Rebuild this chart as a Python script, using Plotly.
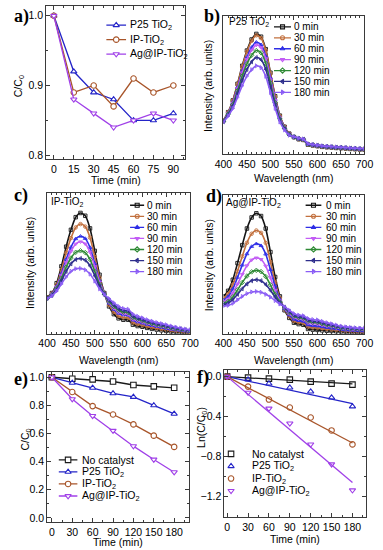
import plotly.graph_objects as go

W, H = 383, 550
SANS = 'Liberation Sans, Arial, sans-serif'
SERIF = 'Liberation Serif, Times New Roman, serif'
FRAME = '#3a3a3a'

# ---------------- data ----------------
# a) adsorption in the dark
time_a = [0, 15, 30, 45, 60, 75, 90]
a_p25 = [1.0, 0.92, 0.89, 0.88, 0.85, 0.85, 0.86]
a_ip = [1.0, 0.89, 0.90, 0.87, 0.91, 0.89, 0.90]
a_ag = [1.0, 0.88, 0.86, 0.84, 0.85, 0.86, 0.85]

# e) / f) photodegradation
time_ef = [0, 30, 60, 90, 120, 150, 180]
e_none = [1.0, 0.99, 0.985, 0.97, 0.945, 0.935, 0.925]
e_p25 = [1.0, 0.96, 0.925, 0.885, 0.86, 0.80, 0.74]
e_ip = [1.0, 0.895, 0.795, 0.735, 0.665, 0.585, 0.505]
e_ag = [1.0, 0.845, 0.725, 0.62, 0.51, 0.415, 0.325]

f_none = [0, -0.01, -0.02, -0.03, -0.05, -0.07, -0.08]
f_p25 = [0, -0.03, -0.07, -0.11, -0.15, -0.21, -0.30]
f_ip = [0, -0.10, -0.23, -0.31, -0.41, -0.54, -0.68]
f_ag = [0, -0.16, -0.32, -0.47, -0.68, -0.88, -1.14]
fit_k = [0.0004, 0.0015, 0.0037, 0.0059]  # slopes of the linear fits (1/min)

sample_names = ['No catalyst', 'P25 TiO<sub>2</sub>', 'IP-TiO<sub>2</sub>', 'Ag@IP-TiO<sub>2</sub>']

# b) c) d) spectra
wavelength = [400, 410, 420, 430, 440, 450, 460, 470, 480, 490, 500, 510, 520, 530, 540, 550,
              560, 570, 580, 590, 600, 610, 620, 630, 640, 650, 660, 670, 680, 690, 700]
spec_labels = ['0 min', '30 min', '60 min', '90 min', '120 min', '150 min', '180 min']

b_0 = [24.5, 30.5, 39, 51, 64, 75, 83, 87, 85, 76, 59, 42, 28, 20, 15, 12.5, 11, 10.5, 7, 6.5, 6, 5.5, 5.2, 5, 4.7, 4.5, 4.3, 4, 3.8, 3.6, 3.5]
b_30 = [24.5, 30.4, 38.8, 50.6, 63.4, 74.2, 82, 86, 84, 75.2, 58.4, 41.6, 27.8, 19.9, 15, 12.5, 11, 10.5, 7, 6.5, 6, 5.5, 5.2, 5, 4.7, 4.5, 4.3, 4, 3.8, 3.6, 3.5]
b_60 = [24.2, 29.8, 37.5, 48.5, 60.3, 70.2, 77.3, 81, 79.2, 70.9, 55.3, 39.7, 26.8, 19.4, 14.7, 12.5, 11.2, 10.7, 7.2, 6.7, 6.2, 5.7, 5.4, 5.2, 4.9, 4.7, 4.5, 4.2, 4, 3.8, 3.7]
b_90 = [24.1, 29.5, 37, 47.6, 59, 68.6, 75.4, 79, 77.2, 69.2, 54, 39, 26.4, 19.2, 14.6, 12.5, 11.3, 10.8, 7.3, 6.8, 6.3, 5.8, 5.5, 5.3, 5, 4.8, 4.6, 4.3, 4.1, 3.9, 3.8]
b_120 = [23.9, 29.1, 36, 46, 56.6, 65.4, 71.6, 75, 73.4, 65.8, 51.6, 37.4, 25.6, 18.8, 14.4, 12.6, 11.4, 10.9, 7.4, 6.9, 6.4, 5.9, 5.6, 5.4, 5.1, 4.9, 4.7, 4.4, 4.2, 4, 3.9]
b_150 = [23.6, 28.5, 34.8, 43.9, 53.5, 61.4, 66.9, 70, 68.5, 61.6, 48.5, 35.5, 24.6, 18.3, 14.2, 12.7, 11.5, 11, 7.5, 7, 6.5, 6, 5.7, 5.5, 5.2, 5, 4.8, 4.5, 4.3, 4.1, 4]
b_180 = [23.3, 27.7, 33.2, 41.3, 49.7, 56.6, 61.2, 64, 62.7, 56.4, 44.7, 33.3, 23.4, 17.7, 13.9, 12.8, 11.7, 11.2, 7.7, 7.2, 6.7, 6.2, 5.9, 5.7, 5.4, 5.2, 5, 4.7, 4.5, 4.3, 4.2]

c_0 = [26, 29, 36, 48, 62, 74, 83, 86, 84, 75, 59, 42, 29, 19.5, 14, 11, 10, 10, 6.5, 5.5, 5, 4.2, 3.5, 3, 2.5, 2, 1.6, 1.3, 1, 0.8, 0.7]
c_30 = [25.8, 28.6, 34.9, 45.5, 57.7, 68.1, 75.7, 78.1, 76.3, 68.5, 54.7, 40, 28.8, 20.6, 15.6, 12.7, 11.6, 11.5, 8, 6.9, 6.3, 5.4, 4.6, 4, 3.4, 2.9, 2.4, 2, 1.6, 1.3, 1.1]
c_60 = [25.6, 28.2, 33.7, 42.8, 53, 61.6, 67.6, 69.4, 67.8, 61.4, 50, 37.8, 28.6, 21.8, 17.4, 14.6, 13.4, 13.2, 9.7, 8.4, 7.6, 6.6, 5.8, 5.1, 4.5, 3.8, 3.2, 2.7, 2.3, 1.9, 1.6]
c_90 = [25.5, 28, 33.1, 41.5, 50.8, 58.7, 63.9, 65.5, 64, 58.1, 47.8, 36.8, 28.5, 22.4, 18.2, 15.4, 14.2, 13.9, 10.4, 9.1, 8.3, 7.2, 6.4, 5.6, 5, 4.3, 3.6, 3.1, 2.6, 2.1, 1.8]
c_120 = [25.3, 27.6, 32.3, 39.5, 47.4, 53.9, 58, 59.1, 57.8, 52.9, 44.4, 35.2, 28.3, 23.2, 19.4, 16.8, 15.4, 15.1, 11.6, 10.3, 9.3, 8.1, 7.2, 6.4, 5.7, 5, 4.3, 3.6, 3, 2.5, 2.1]
c_150 = [25.2, 27.4, 31.5, 37.8, 44.4, 49.8, 52.9, 53.6, 52.4, 48.4, 41.4, 33.8, 28.2, 24, 20.6, 18, 16.6, 16.2, 12.7, 11.2, 10.2, 9, 8, 7.1, 6.4, 5.6, 4.8, 4.1, 3.5, 2.9, 2.4]
c_180 = [25, 27, 30.5, 35.5, 40.5, 44.5, 46.3, 46.5, 45.5, 42.5, 37.5, 32, 28, 25, 22, 19.5, 18, 17.5, 14, 12.5, 11.3, 10, 9, 8, 7.2, 6.4, 5.5, 4.7, 4, 3.3, 2.8]

d_0 = [27, 31, 39, 51, 64, 76, 84, 87, 85, 76, 59, 41, 27, 17, 11.5, 8, 7, 6.5, 3.5, 3, 2.8, 2.5, 2.2, 2, 1.8, 1.6, 1.3, 1.1, 0.9, 0.7, 0.5]
d_30 = [25.5, 28.7, 35.3, 45.2, 55.9, 65.7, 72.2, 74.6, 72.9, 65.6, 51.9, 37.3, 25.8, 17.6, 12.7, 9.4, 8.4, 7.9, 5.2, 4.6, 4.4, 3.9, 3.5, 3.1, 2.8, 2.5, 2.1, 1.9, 1.6, 1.4, 1.3]
d_60 = [24.3, 26.9, 32.4, 40.7, 49.6, 57.7, 63, 65, 63.6, 57.5, 46.3, 34.4, 24.9, 18, 13.6, 10.5, 9.5, 9, 6.4, 5.8, 5.6, 5, 4.5, 4, 3.6, 3.1, 2.7, 2.5, 2.2, 2, 1.9]
d_90 = [23, 25, 29.3, 35.9, 42.9, 49.2, 53.3, 54.8, 53.7, 48.9, 40.5, 31.3, 23.9, 18.4, 14.6, 11.7, 10.7, 10.2, 7.8, 7.2, 6.9, 6.2, 5.5, 5, 4.4, 3.8, 3.4, 3.1, 2.8, 2.6, 2.5]
d_120 = [21.9, 23.3, 26.6, 31.7, 37, 41.7, 44.7, 45.8, 44.9, 41.3, 35.3, 28.6, 23, 18.8, 15.5, 12.7, 11.7, 11.2, 9, 8.3, 8.1, 7.2, 6.4, 5.8, 5.1, 4.4, 4, 3.7, 3.4, 3.2, 3.1]
d_150 = [21, 22.1, 24.6, 28.5, 32.5, 36, 38.3, 39, 38.3, 35.6, 31.4, 26.6, 22.3, 19.1, 16.2, 13.5, 12.5, 12, 9.9, 9.2, 8.9, 8, 7.1, 6.4, 5.6, 4.9, 4.4, 4.1, 3.8, 3.6, 3.5]
d_180 = [20, 20.5, 22, 24.5, 27, 29, 30.2, 30.5, 30, 28.5, 26.5, 24, 21.5, 19.5, 17, 14.5, 13.5, 13, 11, 10.3, 10, 9, 8, 7.2, 6.3, 5.5, 5, 4.6, 4.3, 4.1, 4]

# ---------------- styles ----------------
sample_colors = ['#1a1a1a', '#2424c8', '#a8552a', '#a040e8']
sample_symbols = ['square', 'triangle-up', 'circle', 'triangle-down']
spec_colors = ['#151515', '#c2703e', '#2e2ee6', '#c25cf5', '#2f8a35', '#2e2e8c', '#8a5cf5']
spec_symbols = ['square-open', 'circle-open', 'triangle-up-open', 'triangle-down-open',
                'diamond-open', 'triangle-left-open', 'triangle-right-open']

fig = go.Figure()


def dom_x(x0, x1):
    return [x0 / W, x1 / W]


def dom_y(top, bottom):
    return [1 - bottom / H, 1 - top / H]


def axis(**kw):
    base = dict(showline=True, linecolor=FRAME, linewidth=1, mirror='ticks', ticks='inside',
                ticklen=4, tickwidth=1, tickcolor=FRAME, showgrid=False, zeroline=False,
                tickfont=dict(family=SANS, size=10.5, color='black'))
    base.update(kw)
    return base


def minor(d):
    return dict(ticks='inside', ticklen=2, tickcolor=FRAME, dtick=d, showgrid=False)


# a)
for i, ys in zip([1, 2, 3], [a_p25, a_ip, a_ag]):
    fig.add_trace(go.Scatter(x=time_a, y=ys, mode='lines+markers', xaxis='x', yaxis='y',
                             line=dict(color=sample_colors[i], width=1.3),
                             marker=dict(symbol=sample_symbols[i], size=5.5, color='white',
                                         line=dict(color=sample_colors[i], width=1.1))))

# b) c) d)
spec_sets = [(2, [b_0, b_30, b_60, b_90, b_120, b_150, b_180]),
             (3, [c_0, c_30, c_60, c_90, c_120, c_150, c_180]),
             (4, [d_0, d_30, d_60, d_90, d_120, d_150, d_180])]
for n, curves in spec_sets:
    for j, ys in enumerate(curves):
        fig.add_trace(go.Scatter(x=wavelength, y=ys, mode='lines+markers', xaxis='x%d' % n, yaxis='y%d' % n,
                                 line=dict(color=spec_colors[j], width=1.6, shape='spline', smoothing=0.7),
                                 marker=dict(symbol=spec_symbols[j], size=3.5, color=spec_colors[j],
                                             line=dict(width=0.9))))

# e)
for i, ys in enumerate([e_none, e_p25, e_ip, e_ag]):
    fig.add_trace(go.Scatter(x=time_ef, y=ys, mode='lines+markers', xaxis='x5', yaxis='y5',
                             line=dict(color=sample_colors[i], width=1.3),
                             marker=dict(symbol=sample_symbols[i], size=5.5, color='white',
                                         line=dict(color=sample_colors[i], width=1.1))))

# f)
for i, ys in enumerate([f_none, f_p25, f_ip, f_ag]):
    fig.add_trace(go.Scatter(x=[time_ef[0], time_ef[-1]], y=[-fit_k[i] * time_ef[0], -fit_k[i] * time_ef[-1]],
                             mode='lines', xaxis='x6', yaxis='y6',
                             line=dict(color=sample_colors[i], width=1.3)))
    fig.add_trace(go.Scatter(x=time_ef, y=ys, mode='markers', xaxis='x6', yaxis='y6',
                             marker=dict(symbol=sample_symbols[i] + '-open', size=5.5, color=sample_colors[i],
                                         line=dict(width=1.1))))

fig.update_layout(
    xaxis=axis(domain=dom_x(39, 185), anchor='y', range=[-5.8, 99], tick0=0, dtick=15, minor=minor(7.5)),
    yaxis=axis(domain=dom_y(5, 159), anchor='x', range=[0.794, 1.014], dtick=0.1, tickformat='.1f', minor=minor(0.05)),
    xaxis2=axis(domain=dom_x(225, 373), anchor='y2', range=[400, 700], dtick=50, minor=minor(10)),
    yaxis2=axis(domain=dom_y(15, 154), anchor='x2', range=[0, 100], ticks='', showticklabels=False),
    xaxis3=axis(domain=dom_x(40, 190), anchor='y3', range=[400, 700], dtick=50, minor=minor(10)),
    yaxis3=axis(domain=dom_y(193, 334), anchor='x3', range=[0, 100], ticks='', showticklabels=False),
    xaxis4=axis(domain=dom_x(225, 373), anchor='y4', range=[400, 700], dtick=50, minor=minor(10)),
    yaxis4=axis(domain=dom_y(195, 334), anchor='x4', range=[0, 100], ticks='', showticklabels=False),
    xaxis5=axis(domain=dom_x(40, 189), anchor='y5', range=[-7, 202], tick0=0, dtick=30, minor=minor(15)),
    yaxis5=axis(domain=dom_y(372, 523), anchor='x5', range=[-0.03, 1.04], dtick=0.2, tickformat='.1f', minor=minor(0.1)),
    xaxis6=axis(domain=dom_x(226, 375), anchor='y6', range=[-4, 200], tick0=0, dtick=30, minor=minor(15)),
    yaxis6=axis(domain=dom_y(370, 518), anchor='x6', range=[-1.41, 0.07], tick0=0, dtick=0.4, tickformat='.1f', minor=minor(0.2)),
)

annotations = []


def text(x, y, s, size=10.5, family=SANS, xanchor='left', angle=0, bold=False):
    annotations.append(dict(x=x / W, y=1 - y / H, xref='paper', yref='paper', text='<b>%s</b>' % s if bold else s,
                            showarrow=False, xanchor=xanchor, yanchor='middle', textangle=angle,
                            font=dict(family=family, size=size, color='black')))


# hand-made legends (rows tighter than plotly's legend allows)
leg_axis = [7]


def legend(names, colors, symbols, x0, x1, tx, y0, dy, with_line=True, size=5, fsize=10, open_marker=False):
    n = leg_axis[0]
    leg_axis[0] += 1
    rows = len(names)
    fig.update_layout({
        'xaxis%d' % n: dict(domain=dom_x(x0, x1), range=[0, 1], visible=False, anchor='y%d' % n),
        'yaxis%d' % n: dict(domain=dom_y(y0 - 0.5 * dy, y0 + (rows - 0.5) * dy), range=[rows - 0.5, -0.5],
                            visible=False, anchor='x%d' % n),
    })
    for i in range(rows):
        if with_line:
            fig.add_trace(go.Scatter(x=[0, 1], y=[i, i], mode='lines', xaxis='x%d' % n, yaxis='y%d' % n,
                                     line=dict(color=colors[i], width=1.3)))
        mk = dict(symbol=symbols[i], size=size, line=dict(color=colors[i], width=1.1))
        mk['color'] = colors[i] if open_marker else 'white'
        fig.add_trace(go.Scatter(x=[0.5], y=[i], mode='markers', xaxis='x%d' % n, yaxis='y%d' % n, marker=mk))
        text(tx, y0 + i * dy, names[i], size=fsize)


legend(sample_names[1:], sample_colors[1:], sample_symbols[1:], 102, 123, 125, 24.3, 14.5, size=5.5, fsize=10.5)
legend(spec_labels, spec_colors, spec_symbols, 278, 296, 297, 26, 10.95, size=4, open_marker=True)
legend(spec_labels, spec_colors, spec_symbols, 127, 142, 143, 205, 11.1, size=4, open_marker=True)
legend(spec_labels, spec_colors, spec_symbols, 311, 328, 331, 205, 11.1, size=4, open_marker=True)
legend(sample_names, sample_colors, sample_symbols, 52, 72, 74, 460.5, 12.1, size=5.5, fsize=10.5)
legend(sample_names, sample_colors, [s + '-open' for s in sample_symbols], 228, 238, 253, 454.5, 12.4,
       with_line=False, size=5.5, fsize=10.5, open_marker=True)

# panel letters
for lx, ly, s in [(3, 16, 'a)'), (203, 16, 'b)'), (3, 195, 'c)'), (205, 196, 'd)'), (3, 380, 'e)'), (195, 378, 'f)')]:
    text(lx, ly, s, size=18, family=SERIF, bold=True)

# inner sample labels
text(229, 21, 'P25 TiO<sub>2</sub>', size=10)
text(42, 202, 'IP-TiO<sub>2</sub>', size=10)
text(226, 203, 'Ag@IP-TiO<sub>2</sub>', size=10)

# axis titles
text(112, 180, 'Time (min)', xanchor='center')
text(299, 178, 'Wavelength (nm)', xanchor='center')
text(115, 360, 'Wavelength (nm)', xanchor='center')
text(299, 360, 'Wavelength (nm)', xanchor='center')
text(114, 543, 'Time (min)', xanchor='center')
text(300, 540, 'Time (min)', xanchor='center')
text(10, 86, 'C/C<sub>0</sub>', xanchor='center', angle=-90)
text(208, 85, 'Intensity (arb. units)', xanchor='center', angle=-90)
text(22, 263, 'Intensity (arb. units)', xanchor='center', angle=-90)
text(210, 265, 'Intensity (arb. units)', xanchor='center', angle=-90)
text(18, 440, 'C/C<sub>0</sub>', xanchor='center', angle=-90)
text(203, 428, 'Ln(C/C<sub>0</sub>)', xanchor='center', angle=-90)

fig.update_layout(
    annotations=annotations,
    width=W, height=H,
    margin=dict(l=0, r=0, t=0, b=0),
    paper_bgcolor='white', plot_bgcolor='rgba(0,0,0,0)',
    showlegend=False,
    font=dict(family=SANS, size=10.5, color='black'),
)

fig.write_html('out.html', config={'displayModeBar': False},
               post_script="document.body.style.margin='0px';")
